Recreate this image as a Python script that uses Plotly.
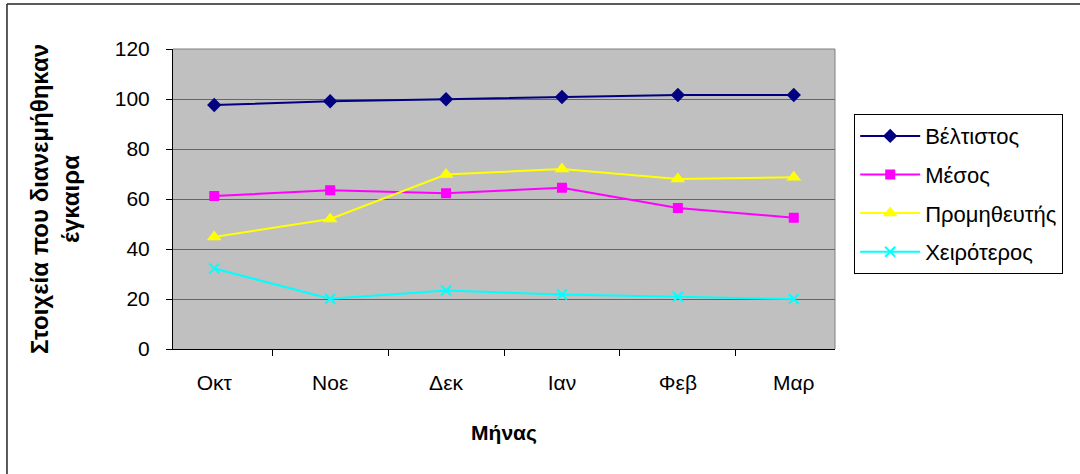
import plotly.graph_objects as go

months = ["Οκτ", "Νοε", "Δεκ", "Ιαν", "Φεβ", "Μαρ"]
best = [97.6, 99.1, 99.9, 100.8, 101.6, 101.6]
average = [61.2, 63.5, 62.3, 64.5, 56.4, 52.5]
supplier = [44.8, 52.0, 69.8, 72.0, 68.0, 68.7]
worst = [32.2, 20.1, 23.4, 21.8, 20.9, 20.0]

y_ticks = [0, 20, 40, 60, 80, 100, 120]

FONT = "Arial, Liberation Sans, sans-serif"

series = [
    ("Βέλτιστος", best, "#000080", dict(symbol="diamond", size=11)),
    ("Μέσος", average, "#FF00FF", dict(symbol="square", size=10)),
    ("Προμηθευτής", supplier, "#FFFF00", dict(symbol="triangle-up", size=13)),
    ("Χειρότερος", worst, "#00FFFF", dict(symbol="x-thin", size=10,
                                          line=dict(width=2, color="#00FFFF"))),
]

fig = go.Figure()
for name, vals, color, marker in series:
    fig.add_trace(go.Scatter(
        x=months, y=vals, name=name, mode="lines+markers",
        line=dict(color=color, width=2),
        marker=dict(color=color, **marker),
        legendgroup=name,
    ))

fig.update_layout(
    width=1080, height=474,
    margin=dict(l=173, r=245, t=49, b=125),
    paper_bgcolor="white",
    plot_bgcolor="#C0C0C0",
    font=dict(family=FONT, size=20, color="black"),
    showlegend=True,
    legend=dict(
        x=1.029, y=0.783, xanchor="left", yanchor="top",
        bgcolor="white", bordercolor="#000000", borderwidth=1,
        font=dict(family=FONT, size=22),
        tracegroupgap=7,
        itemwidth=60,
    ),
    xaxis=dict(
        type="category",
        showgrid=False,
        showline=True, linecolor="black", linewidth=1,
        ticks="outside", tickson="boundaries", ticklen=6, tickcolor="black",
        tickfont=dict(size=21),
        ticklabelstandoff=15,
        title=dict(text="<b>Μήνας</b>", font=dict(size=21), standoff=32),
        zeroline=False,
    ),
    yaxis=dict(
        range=[0, 120],
        tickvals=y_ticks,
        showgrid=True, gridcolor="#666666", gridwidth=1,
        showline=True, linecolor="black", linewidth=1,
        ticks="outside", ticklen=6, tickcolor="black",
        tickfont=dict(size=21),
        ticklabelstandoff=12,
        title=dict(text="<b>Στοιχεία που διανεμήθηκαν<br>έγκαιρα</b>",
                   font=dict(size=24), standoff=28),
        zeroline=False,
    ),
    shapes=[
        # plot area frame (top and right edges)
        dict(type="line", xref="paper", yref="paper", x0=0, x1=1, y0=1, y1=1,
             line=dict(color="#808080", width=1)),
        dict(type="line", xref="paper", yref="paper", x0=1, x1=1, y0=0, y1=1,
             line=dict(color="#808080", width=1)),
        # chart frame
        dict(type="line", xref="paper", yref="paper", x0=-0.2508, x1=1.5, y0=1.15, y1=1.15,
             line=dict(color="#222222", width=1.5)),
        dict(type="line", xref="paper", yref="paper", x0=-0.2508, x1=-0.2508, y0=-0.5, y1=1.15,
             line=dict(color="#222222", width=1.5)),
    ],
)

fig.write_html("out.html")
